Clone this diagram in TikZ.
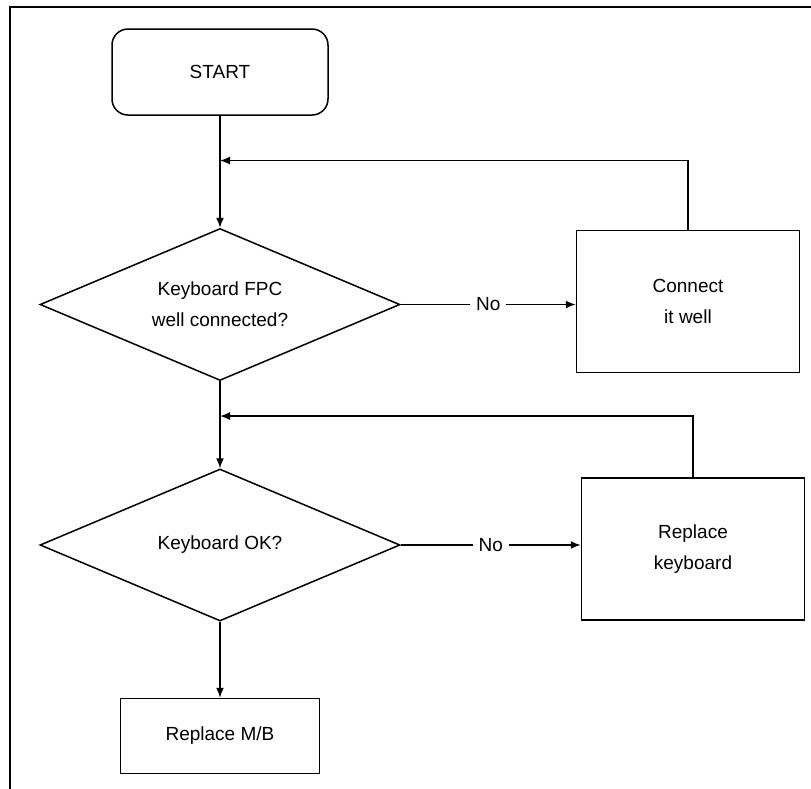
\documentclass[tikz,border=0pt]{standalone}
\usepackage{fontspec}
\setmainfont{Liberation Sans}
\usetikzlibrary{positioning, arrows.meta, shapes.geometric, calc}

\begin{document}
\begin{tikzpicture}[
        node distance=56pt and 87.5pt,
        font=\fontsize{9.5}{15.5}\selectfont,
        startbox/.style={draw, rectangle, rounded corners=8pt, minimum width=108pt, minimum height=43pt, align=center, line width=0.75pt},
        decision/.style={draw, diamond, aspect=2.37, minimum width=180pt, minimum height=76pt, inner sep=0pt, align=center, line width=0.75pt},
        procbox/.style={draw, rectangle, minimum width=111.5pt, minimum height=71pt, align=center, line width=0.75pt},
        endbox/.style={draw, rectangle, minimum width=99.5pt, minimum height=37.5pt, align=center, line width=0.75pt},
        arrow/.style={-{Latex[length=5pt,width=4pt]}, line width=0.75pt},
        nolabel/.style={fill=white, inner sep=3pt}
    ]

    \useasboundingbox (0,0) rectangle (405.5pt,-394.5pt);
    \draw[line width=1pt] (5pt,-394.5pt) -- (5pt,-3.5pt) -- (405.5pt,-3.5pt);

    \node[startbox] (Start) at (110pt,-36pt) {START};
    \node[decision, below=56pt of Start] (CheckFPC) {Keyboard FPC\\well connected?};
    \node[procbox, right=87.5pt of CheckFPC, yshift=1.5pt] (Connect) {Connect\\it well};
    \node[decision, below=43.5pt of CheckFPC] (CheckKB) {Keyboard OK?};
    \node[procbox, right=90pt of CheckKB, yshift=-2pt] (ReplaceKB) {Replace\\keyboard};
    \node[endbox, below=38pt of CheckKB] (ReplaceMB) {Replace M/B};

    \coordinate (Back1) at ($(Start.south)!0.4!(CheckFPC.north)$);
    \coordinate (Back2) at ($(CheckFPC.south)!0.4!(CheckKB.north)$);

    \draw[arrow] (Start) -- (CheckFPC);
    \draw[arrow] (CheckFPC.east) -- node[nolabel] {No} (CheckFPC.east -| Connect.west);
    \draw[arrow] (Connect.north) |- (Back1);
    \draw[arrow] (CheckFPC) -- (CheckKB);
    \draw[arrow] (CheckKB.east) -- node[nolabel] {No} (CheckKB.east -| ReplaceKB.west);
    \draw[arrow] (ReplaceKB.north) |- (Back2);
    \draw[arrow] (CheckKB) -- (ReplaceMB);

\end{tikzpicture}
\end{document}
